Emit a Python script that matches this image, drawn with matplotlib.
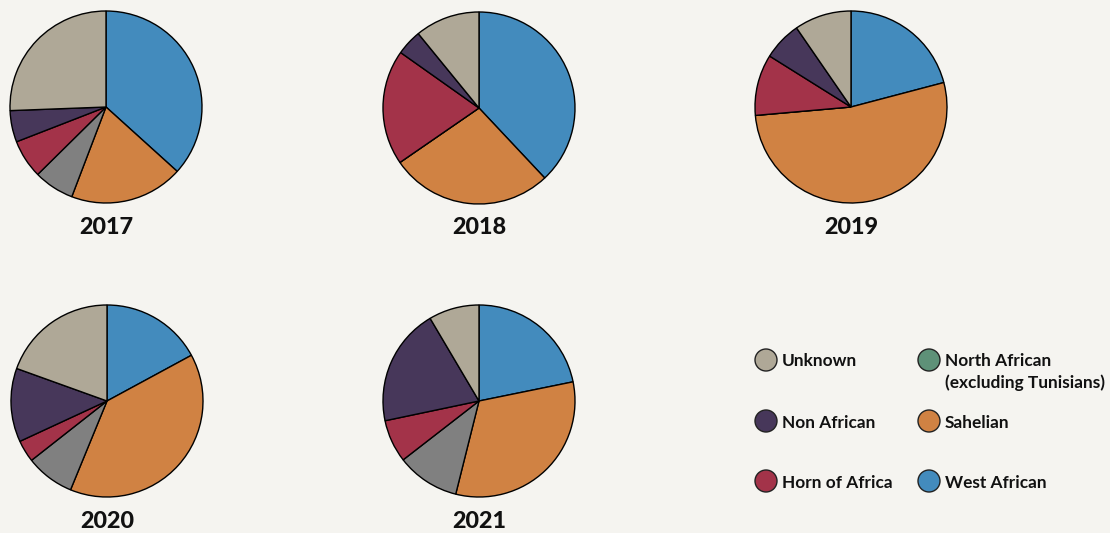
import matplotlib
matplotlib.use("Agg")
import matplotlib.pyplot as plt
from matplotlib.patches import Circle

plt.rcParams['font.family'] = ['Lato', 'DejaVu Sans']

# ---- data ----
years = ["2017", "2018", "2019", "2020", "2021"]
categories = ["West African", "Sahelian", "Other", "Horn of Africa", "Non African", "Unknown"]
west_african = [36.7, 38.0, 20.9, 17.1, 21.8]
sahelian     = [19.1, 27.4, 52.7, 39.1, 32.1]
other        = [6.8, 0.0, 0.0, 8.2, 10.6]
horn         = [6.5, 19.4, 10.3, 3.7, 7.2]
non_african  = [5.3, 4.3, 6.5, 12.4, 19.8]
unknown      = [25.6, 10.9, 9.6, 19.5, 8.5]

legend_labels = ["Unknown", "Non African", "Horn of Africa",
                 "North African\n(excluding Tunisians)", "Sahelian", "West African"]

# ---- styles ----
BG = "#F5F4F0"
slice_colors = ["#438BBD", "#D08243", "#808080", "#A33349", "#47375A", "#AFA897"]
legend_colors = ["#AFA897", "#47375A", "#A33349", "#5E9178", "#D08243", "#438BBD"]

W, H = 1110, 533
fig = plt.figure(figsize=(W / 100, H / 100), dpi=100, facecolor=BG)
ax = fig.add_axes([0, 0, 1, 1])
ax.set_facecolor(BG)

centers = [(106, 107), (479, 108), (851, 107), (107, 401), (479, 401)]
label_y = [228, 228, 228, 521, 521]
R = 96

series = [west_african, sahelian, other, horn, non_african, unknown]
for i, yr in enumerate(years):
    vals = [s[i] for s in series]
    cx, cy = centers[i]
    ax.pie(vals, colors=slice_colors, startangle=90, counterclock=False,
           center=(cx, H - cy), radius=R,
           wedgeprops=dict(edgecolor="black", linewidth=1.0))
    ax.text(cx, H - label_y[i], yr, ha="center", va="center",
            fontsize=16.8, fontweight="black", color="#111111")

# legend
leg_x = [766, 929]
leg_y = [360, 421, 481]
for k, (lab, col) in enumerate(zip(legend_labels, legend_colors)):
    c = k // 3
    r = k % 3
    x, y = leg_x[c], H - leg_y[r]
    ax.add_patch(Circle((x, y), 11, facecolor=col, edgecolor="#222222", linewidth=1.0))
    lines = lab.split("\n")
    for j, ln in enumerate(lines):
        ax.text(x + 16, y - 1.5 - j * 21.5, ln, ha="left", va="center",
                fontsize=12.4, fontweight="bold", color="#111111")

ax.set_xlim(0, W)
ax.set_ylim(0, H)
ax.set_aspect("equal")
ax.axis("off")

fig.savefig("out.png", dpi=100, facecolor=BG)
